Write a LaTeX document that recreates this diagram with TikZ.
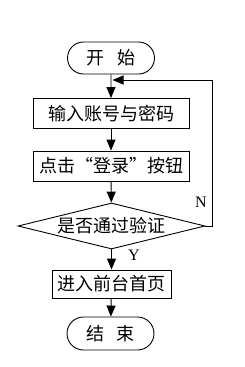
\documentclass[tikz,border=0pt]{standalone}
\usepackage{fontspec}
\setmainfont{Liberation Serif}
\newfontfamily\cjk{Noto Sans CJK SC}
\usetikzlibrary{arrows.meta,shapes.geometric,shapes.misc}
\tikzset{
  base/.style={draw=black, line width=0.9pt, inner sep=0pt, font=\cjk\fontsize{18}{20}\selectfont},
  term/.style={base, rounded rectangle, minimum width=87pt, minimum height=32pt},
  proc/.style={base, rectangle, minimum width=156pt, minimum height=30pt},
  decide/.style={base, diamond, aspect=4.07, minimum width=187pt, minimum height=46pt},
  flow/.style={line width=0.9pt, -{Triangle[length=11pt,width=9pt]}},
  lab/.style={font=\fontsize{16}{18}\selectfont}
}
\begin{document}
\begin{tikzpicture}[x=1pt,y=-1pt]
\useasboundingbox (0,0) rectangle (245,367);
\node[term] (start) at (111,58) {开\hspace{0.7em}始};
\node[proc] (in) at (111,113.5) {输入账号与密码};
\node[proc] (click) at (111,166) {点击“登录”按钮};
\node[decide] (dia) at (111.5,226) {是否通过验证};
\node[proc, minimum width=119pt, minimum height=28pt] (home) at (111.5,284) {进入前台首页};
\node[term, minimum height=33pt] (end) at (110.5,333.5) {结\hspace{0.7em}束};
\coordinate (corner) at (212,80);
\coordinate (merge) at (112.5,80);
\draw[flow] (start) -- (in);
\draw[flow] (in) -- (click);
\draw[flow] (click) -- (dia);
\draw[flow] (dia) -- (home);
\draw[flow] (home) -- (end);
\draw[flow] (dia.east) -- (dia.east -| corner) -- (corner) -- (merge);
\node[lab] (n) at (201,202) {N};
\node[lab] (y) at (134,255) {Y};
\end{tikzpicture}
\end{document}
